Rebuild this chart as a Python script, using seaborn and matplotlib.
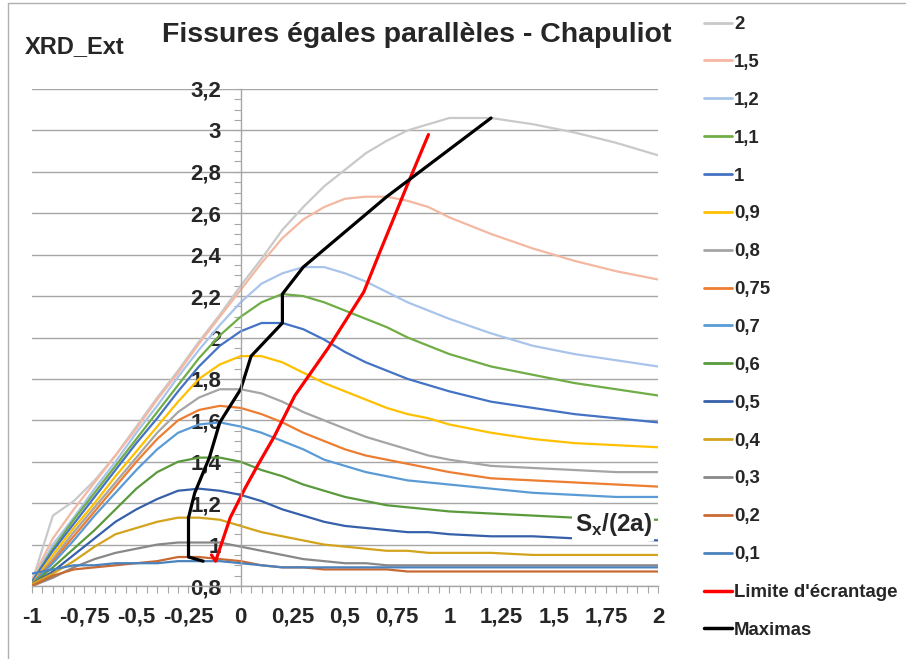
import pandas as pd
import seaborn as sns
import matplotlib.pyplot as plt
from matplotlib.lines import Line2D
from matplotlib.ticker import MultipleLocator

# abscissa shared by every curve
x_pts = [-1, -0.9, -0.8, -0.7, -0.6, -0.5, -0.4, -0.3, -0.2, -0.1, 0, 0.1, 0.2,
         0.3, 0.4, 0.5, 0.6, 0.7, 0.8, 0.9, 1.0, 1.2, 1.4, 1.6, 1.8, 2.0]

s_2 = [0.82, 1.14, 1.21, 1.31, 1.43, 1.57, 1.71, 1.84, 1.98, 2.11, 2.25, 2.38, 2.52,
       2.63, 2.73, 2.81, 2.89, 2.95, 3.0, 3.03, 3.06, 3.06, 3.03, 2.99, 2.94, 2.88]
s_1_5 = [0.83, 1.03, 1.17, 1.3, 1.43, 1.56, 1.7, 1.83, 1.97, 2.1, 2.23, 2.36, 2.48,
         2.57, 2.63, 2.67, 2.68, 2.68, 2.66, 2.63, 2.58, 2.5, 2.43, 2.37, 2.32, 2.28]
s_1_2 = [0.82, 1.0, 1.13, 1.27, 1.4, 1.54, 1.67, 1.81, 1.94, 2.06, 2.17, 2.26, 2.31,
         2.34, 2.34, 2.31, 2.27, 2.22, 2.17, 2.13, 2.09, 2.02, 1.96, 1.92, 1.89, 1.86]
s_1_1 = [0.82, 0.98, 1.12, 1.25, 1.38, 1.51, 1.64, 1.77, 1.9, 2.01, 2.1, 2.17, 2.21,
         2.2, 2.17, 2.13, 2.09, 2.05, 2.0, 1.96, 1.92, 1.86, 1.82, 1.78, 1.75, 1.72]
s_1 = [0.82, 0.97, 1.1, 1.23, 1.36, 1.49, 1.61, 1.74, 1.86, 1.96, 2.03, 2.07, 2.07,
       2.04, 1.99, 1.93, 1.88, 1.84, 1.8, 1.77, 1.74, 1.69, 1.66, 1.63, 1.61, 1.59]
s_0_9 = [0.81, 0.95, 1.08, 1.2, 1.33, 1.45, 1.57, 1.69, 1.8, 1.87, 1.91, 1.91, 1.88,
         1.83, 1.78, 1.74, 1.7, 1.66, 1.63, 1.61, 1.58, 1.54, 1.51, 1.49, 1.48, 1.47]
s_0_8 = [0.81, 0.93, 1.06, 1.18, 1.3, 1.42, 1.54, 1.64, 1.71, 1.75, 1.75, 1.73, 1.69,
         1.64, 1.6, 1.56, 1.52, 1.49, 1.46, 1.43, 1.41, 1.38, 1.37, 1.36, 1.35, 1.35]
s_0_75 = [0.81, 0.92, 1.04, 1.16, 1.28, 1.4, 1.51, 1.6, 1.65, 1.67, 1.66, 1.63, 1.59,
          1.54, 1.5, 1.46, 1.43, 1.41, 1.39, 1.37, 1.35, 1.32, 1.31, 1.3, 1.29, 1.28]
s_0_7 = [0.81, 0.91, 1.02, 1.14, 1.25, 1.36, 1.46, 1.54, 1.58, 1.59, 1.57, 1.54, 1.5,
         1.46, 1.41, 1.38, 1.35, 1.33, 1.31, 1.3, 1.29, 1.27, 1.25, 1.24, 1.23, 1.23]
s_0_6 = [0.81, 0.89, 0.98, 1.07, 1.17, 1.27, 1.35, 1.4, 1.42, 1.42, 1.4, 1.36, 1.33,
         1.29, 1.26, 1.23, 1.21, 1.19, 1.18, 1.17, 1.16, 1.15, 1.14, 1.13, 1.12, 1.12]
s_0_5 = [0.81, 0.87, 0.95, 1.03, 1.11, 1.17, 1.22, 1.26, 1.27, 1.26, 1.24, 1.21, 1.17,
         1.14, 1.11, 1.09, 1.08, 1.07, 1.06, 1.06, 1.05, 1.04, 1.04, 1.03, 1.03, 1.02]
s_0_4 = [0.81, 0.86, 0.92, 0.99, 1.05, 1.08, 1.11, 1.13, 1.13, 1.12, 1.09, 1.06, 1.04,
         1.02, 1.0, 0.99, 0.98, 0.97, 0.97, 0.96, 0.96, 0.96, 0.95, 0.95, 0.95, 0.95]
s_0_3 = [0.8, 0.84, 0.89, 0.93, 0.96, 0.98, 1.0, 1.01, 1.01, 1.01, 0.99, 0.97, 0.95,
         0.93, 0.92, 0.91, 0.91, 0.9, 0.9, 0.9, 0.9, 0.9, 0.9, 0.9, 0.9, 0.9]
s_0_2 = [0.8, 0.85, 0.88, 0.89, 0.9, 0.91, 0.92, 0.94, 0.94, 0.93, 0.92, 0.9, 0.89,
         0.89, 0.88, 0.88, 0.88, 0.88, 0.87, 0.87, 0.87, 0.87, 0.87, 0.87, 0.87, 0.87]
s_0_1 = [0.86, 0.88, 0.9, 0.9, 0.91, 0.91, 0.91, 0.92, 0.92, 0.92, 0.91, 0.9, 0.89,
         0.89, 0.89, 0.89, 0.89, 0.89, 0.89, 0.89, 0.89, 0.89, 0.89, 0.89, 0.89, 0.89]

limite_x = [-0.14, -0.12, -0.05, 0.02, 0.08, 0.16, 0.26, 0.42, 0.59, 0.67, 0.8, 0.9]
limite_y = [0.95, 0.92, 1.13, 1.27, 1.38, 1.52, 1.72, 1.95, 2.22, 2.42, 2.74, 2.98]

maxima_x = [-0.18, -0.25, -0.25, -0.25, -0.22, -0.15, -0.1, -0.05, 0.0, 0.05, 0.2,
            0.2, 0.3, 0.7, 1.2]
maxima_y = [0.92, 0.94, 1.01, 1.13, 1.25, 1.42, 1.59, 1.67, 1.75, 1.91, 2.07,
            2.21, 2.34, 2.68, 3.06]

series_labels = ["2", "1,5", "1,2", "1,1", "1", "0,9", "0,8", "0,75", "0,7",
                 "0,6", "0,5", "0,4", "0,3", "0,2", "0,1"]
series_values = [s_2, s_1_5, s_1_2, s_1_1, s_1, s_0_9, s_0_8, s_0_75, s_0_7,
                 s_0_6, s_0_5, s_0_4, s_0_3, s_0_2, s_0_1]
series_colors = ["#c9c9c9", "#f4b8a2", "#a9c4ea", "#70ad47", "#4472c4", "#ffc000",
                 "#a5a5a5", "#ed7d31", "#5b9bd5", "#5b9a3c", "#3660aa", "#d4a31c",
                 "#888888", "#c96a33", "#4a82be"]

x_ticks = [-1, -0.75, -0.5, -0.25, 0, 0.25, 0.5, 0.75, 1, 1.25, 1.5, 1.75, 2]
x_tick_labels = ["-1", "-0,75", "-0,5", "-0,25", "0", "0,25", "0,5", "0,75", "1",
                 "1,25", "1,5", "1,75", "2"]
y_ticks = [0.8, 1.0, 1.2, 1.4, 1.6, 1.8, 2.0, 2.2, 2.4, 2.6, 2.8, 3.0, 3.2]
y_tick_labels = ["0,8", "1", "1,2", "1,4", "1,6", "1,8", "2", "2,2", "2,4", "2,6",
                 "2,8", "3", "3,2"]

sns.set_theme(style="white")
plt.rcParams['font.family'] = ['Liberation Sans', 'DejaVu Sans']
plt.rcParams['font.weight'] = 'bold'
plt.rcParams['mathtext.fontset'] = 'custom'
plt.rcParams['mathtext.rm'] = 'Liberation Sans:bold'
plt.rcParams['mathtext.bf'] = 'Liberation Sans:bold'

fig = plt.figure(figsize=(9.06, 6.59), dpi=100)
ax = fig.add_axes([32 / 906, 73 / 659, 626 / 906, 497 / 659])

df = pd.concat([pd.DataFrame({'x': x_pts, 'y': v, 'serie': lab})
                for lab, v in zip(series_labels, series_values)], ignore_index=True)
palette = dict(zip(series_labels, series_colors))
sns.lineplot(data=df, x='x', y='y', hue='serie', hue_order=series_labels,
             palette=palette, estimator=None, sort=False, lw=1.6, legend=False, ax=ax)
sns.lineplot(x=limite_x, y=limite_y, color='#ff0000', lw=2.3, estimator=None,
             sort=False, ax=ax)
sns.lineplot(x=maxima_x, y=maxima_y, color='black', lw=2.3, estimator=None,
             sort=False, ax=ax)

ax.set_xlim(-1, 2)
ax.set_ylim(0.8, 3.2)
ax.set_xlabel('')
ax.set_ylabel('')
ax.set_xticks(x_ticks)
ax.set_xticklabels(x_tick_labels)
ax.set_yticks(y_ticks)
ax.set_yticklabels(y_tick_labels)
ax.xaxis.set_minor_locator(MultipleLocator(0.05))
ax.yaxis.set_minor_locator(MultipleLocator(0.05))

ax.spines['left'].set_position(('data', 0))
for side in ['top', 'right']:
    ax.spines[side].set_visible(False)
for side in ['left', 'bottom']:
    ax.spines[side].set_color('#a6a6a6')
    ax.spines[side].set_linewidth(1)

ax.tick_params(axis='both', which='both', direction='out', length=5, width=0.8,
               color='#a6a6a6', bottom=True, left=True)
ax.tick_params(axis='y', which='major', pad=9, labelsize=16)
ax.tick_params(axis='x', which='major', pad=10, labelsize=16)
for lbl in ax.get_xticklabels() + ax.get_yticklabels():
    lbl.set_fontweight('bold')

ax.yaxis.grid(True, color='#a6a6a6', lw=1)
ax.xaxis.grid(False)
ax.set_axisbelow(True)

ax.text(1.6, 1.095, r'S$_\mathbf{x}$/(2a)', fontsize=17.5, fontweight='bold',
        ha='left', va='center', zorder=6,
        bbox=dict(fc='white', ec='none', pad=2))

fig.text(417 / 906, 1 - 42 / 659, "Fissures égales parallèles - Chapuliot",
         ha='center', va='baseline', fontsize=20.5, fontweight='bold')
fig.text(25 / 906, 1 - 53 / 659, "XRD_Ext", ha='left', va='baseline',
         fontsize=17, fontweight='bold')

# chart frame (only left and top edges visible)
fig.add_artist(Line2D([8 / 906, 8 / 906], [0, 1 - 3 / 659], transform=fig.transFigure,
                      color='#b0b0b0', lw=1))
fig.add_artist(Line2D([8 / 906, 1], [1 - 3 / 659, 1 - 3 / 659], transform=fig.transFigure,
                      color='#b0b0b0', lw=1))

handles = [Line2D([], [], color=c, lw=2) for c in series_colors]
handles += [Line2D([], [], color='#ff0000', lw=2.5), Line2D([], [], color='black', lw=2.5)]
labels = series_labels + ["Limite d'écrantage", "Maximas"]
fig.legend(handles, labels, loc='upper left', bbox_to_anchor=(704 / 906, 1 - 16 / 659),
           frameon=False, prop={'weight': 'bold', 'size': 13.4}, handlelength=1.5,
           handletextpad=0.12, labelspacing=1.12, borderpad=0, borderaxespad=0)

fig.savefig('out.png', dpi=100)
